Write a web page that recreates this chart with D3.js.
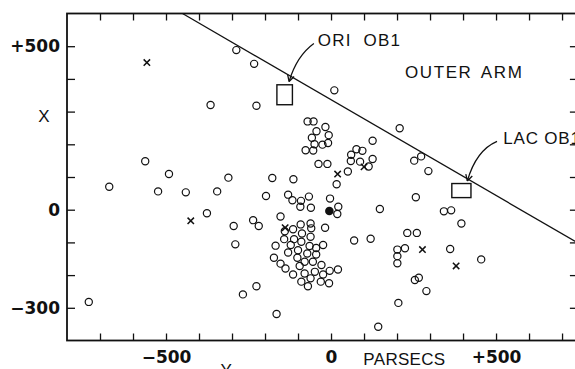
<!DOCTYPE html>
<html>
<head>
<meta charset="utf-8">
<script src="https://cdn.jsdelivr.net/npm/d3@7"></script>
<style>
  html, body { margin: 0; padding: 0; background: #fff; }
  svg { display: block; }
  .tick text { font-family: "DejaVu Sans", sans-serif; font-weight: bold; font-size: 17px; fill: #111; }
  .lbl { font-family: "Liberation Sans", Arial, sans-serif; font-size: 17px; fill: #111; }
</style>
</head>
<body>
<script>
// Early-type stars and OB associations projected on the galactic plane.
// Every position is [Y, X] in parsecs: Y runs left-right, X runs up-down.

const openStars = [
  [-287, 488], [-233, 446], [-365, 320], [-226, 318], [-563, 148], [-491, 109],
  [-311, 98], [-178, 97], [-672, 70], [-524, 56], [-440, 53], [-345, 56],
  [-197, 42], [-130, 46], [-117, 29], [-376, -11], [-295, -50], [-236, -32],
  [-219, -50], [-153, -21], [-140, -66], [-290, -106], [-168, -110], [-142, -90],
  [-173, -147], [-153, -165], [-138, -180], [-130, -131], [-226, -234], [-267, -259],
  [-734, -282], [-165, -319],
  [10, 365], [208, 249], [126, 211], [273, 163], [252, 150], [295, 118],
  [-71, 270], [-53, 270], [-17, 253], [-44, 240], [-7, 228], [-58, 220],
  [-50, 200], [-26, 199], [-9, 204], [-77, 182], [-54, 181], [-38, 140], [-11, 140],
  [77, 185], [95, 180], [61, 168], [60, 149], [88, 147], [114, 132], [126, 155],
  [51, 117], [-114, 93], [17, 78],
  [-91, 27], [-67, 40], [-3, 34], [-93, 9], [-61, 6], [22, 9], [19, -13],
  [148, 2], [257, 38], [342, -5], [364, -2], [395, -42], [-18, -55],
  [70, -94], [120, -89], [231, -71], [260, -71], [201, -122], [224, -118],
  [201, -142], [201, -164], [361, -120], [455, -152], [254, -215], [266, -208],
  [289, -249], [204, -285], [143, -358],
  [-92, -45], [-62, -42], [-60, -57], [-115, -60], [-88, -73], [-62, -83],
  [-112, -90], [-122, -108], [-90, -98], [-65, -111], [-45, -117], [-24, -108],
  [-100, -124], [-72, -134], [-45, -137], [-102, -147], [-95, -172], [-80, -159],
  [-55, -159], [-29, -169], [-115, -198], [-80, -195], [-49, -190], [-24, -198],
  [-4, -187], [21, -183], [-90, -220], [-62, -210], [-31, -220], [-6, -225],
  [-70, -234]
];

const crossStars = [
  [-558, 450], [-425, -34], [-139, -55], [20, 109], [100, 131], [277, -122], [379, -172]
];

const sun = [[-5, -4]];

// OB associations drawn as rectangles: [Y min, Y max, X min, X max]
const associationNames = ["ORI  OB1", "LAC OB1"];
const associationBoxes = [
  [-164, -117, 321, 382],
  [366, 424, 37, 80]
];
// label baseline start, arrow start, arrow bend, arrow tip
const associationLabels = [[-40, 500], [522, 200]];
const associationSpacing = [1.2, 0.8];
const arrowStarts = [[-52, 508], [503, 209]];
const arrowBends = [[-104, 470], [440, 182]];
const arrowTips = [[-127, 392], [413, 88]];

// Inner edge of the outer arm
const armLine = [[-450, 600], [745, -100]];
const armLabel = "OUTER ARM";
const armLabelAt = [224, 402];

const yTickLabels = { "-500": "\u2212500", "0": "0", "500": "+500" };
const xTickLabels = { "-300": "\u2212300", "0": "0", "500": "+500" };

const W = 575, H = 369;
const sx = d3.scaleLinear().domain([-800, 745]).range([67, 576.9]);
const sy = d3.scaleLinear().domain([-400, 600]).range([340.5, 13.5]);
const ink = "#111";

const svg = d3.select("body").append("svg").attr("width", W).attr("height", H);

// axes: inward ticks every 100 pc on all four sides
const hTicks = d3.range(-700, 701, 100);
const vTicks = d3.range(-300, 501, 100);

function styleAxis(g) {
  g.select(".domain").remove();
  g.selectAll(".tick line").attr("stroke", ink).attr("stroke-width", 1.3);
}

svg.append("g").attr("transform", `translate(0,${sy(-400)})`)
  .call(d3.axisBottom(sx).tickValues(hTicks).tickSize(-7).tickPadding(10)
    .tickFormat(d => yTickLabels[d] || ""))
  .call(styleAxis);
svg.append("g").attr("transform", `translate(0,${sy(600)})`)
  .call(d3.axisTop(sx).tickValues(hTicks).tickSize(-7).tickFormat(""))
  .call(styleAxis);
svg.append("g").attr("transform", `translate(${sx(-800)},0)`)
  .call(d3.axisLeft(sy).tickValues(vTicks).tickSize(-8).tickPadding(7)
    .tickFormat(d => xTickLabels[d] || ""))
  .call(styleAxis);
svg.append("g").attr("transform", `translate(${sx(745)},0)`)
  .call(d3.axisRight(sy).tickValues(vTicks).tickSize(-7).tickFormat(""))
  .call(styleAxis);

svg.selectAll(".tick text").attr("fill", ink);

// frame
svg.append("rect")
  .attr("x", sx(-800)).attr("y", sy(600))
  .attr("width", sx(745) - sx(-800)).attr("height", sy(-400) - sy(600))
  .attr("fill", "none").attr("stroke", ink).attr("stroke-width", 1.8);

// axis titles
svg.append("text").attr("class", "lbl").attr("x", 44).attr("y", 122)
  .attr("text-anchor", "middle").text("X");
svg.append("text").attr("class", "lbl").attr("x", sx(-318)).attr("y", 375.5)
  .attr("text-anchor", "middle").text("Y");
svg.append("text").attr("class", "lbl").attr("x", sx(98)).attr("y", 365)
  .attr("letter-spacing", 0.3).text("PARSECS");

// outer arm boundary
svg.append("line")
  .attr("x1", sx(armLine[0][0])).attr("y1", sy(armLine[0][1]))
  .attr("x2", sx(armLine[1][0])).attr("y2", sy(armLine[1][1]))
  .attr("stroke", ink).attr("stroke-width", 1.3);

svg.append("text").attr("class", "lbl")
  .attr("x", sx(armLabelAt[0])).attr("y", sy(armLabelAt[1]))
  .attr("letter-spacing", 1.6).attr("word-spacing", 3).text(armLabel);

// association boxes
svg.selectAll("rect.assoc").data(associationBoxes).join("rect")
  .attr("class", "assoc")
  .attr("x", d => sx(d[0])).attr("y", d => sy(d[3]))
  .attr("width", d => sx(d[1]) - sx(d[0])).attr("height", d => sy(d[2]) - sy(d[3]))
  .attr("fill", "none").attr("stroke", ink).attr("stroke-width", 1.4);

// association labels with curved arrows
associationNames.forEach((name, i) => {
  svg.append("text").attr("class", "lbl")
    .attr("x", sx(associationLabels[i][0])).attr("y", sy(associationLabels[i][1]))
    .attr("letter-spacing", associationSpacing[i]).style("white-space", "pre").text(name);
  const p0 = [sx(arrowStarts[i][0]), sy(arrowStarts[i][1])];
  const pc = [sx(arrowBends[i][0]), sy(arrowBends[i][1])];
  const p1 = [sx(arrowTips[i][0]), sy(arrowTips[i][1])];
  const path = d3.path();
  path.moveTo(p0[0], p0[1]);
  path.quadraticCurveTo(pc[0], pc[1], p1[0], p1[1]);
  svg.append("path").attr("d", path.toString())
    .attr("fill", "none").attr("stroke", ink).attr("stroke-width", 1.3);
  // open arrow head
  const ang = Math.atan2(p1[1] - pc[1], p1[0] - pc[0]);
  const len = 7, spread = 0.5;
  [ang + Math.PI - spread, ang + Math.PI + spread].forEach(a => {
    svg.append("line")
      .attr("x1", p1[0]).attr("y1", p1[1])
      .attr("x2", p1[0] + len * Math.cos(a)).attr("y2", p1[1] + len * Math.sin(a))
      .attr("stroke", ink).attr("stroke-width", 1.3);
  });
});

// stars
svg.append("g").selectAll("circle").data(openStars).join("circle")
  .attr("cx", d => sx(d[0])).attr("cy", d => sy(d[1])).attr("r", 3.6)
  .attr("fill", "none").attr("stroke", ink).attr("stroke-width", 1.2);

const crossSize = 3.2;
svg.append("g").selectAll("path").data(crossStars).join("path")
  .attr("d", d => {
    const x = sx(d[0]), y = sy(d[1]), s = crossSize;
    return `M${x - s},${y - s}L${x + s},${y + s}M${x - s},${y + s}L${x + s},${y - s}`;
  })
  .attr("stroke", ink).attr("stroke-width", 1.5);

svg.append("g").selectAll("circle").data(sun).join("circle")
  .attr("cx", d => sx(d[0])).attr("cy", d => sy(d[1])).attr("r", 4.3)
  .attr("fill", ink);
</script>
</body>
</html>
